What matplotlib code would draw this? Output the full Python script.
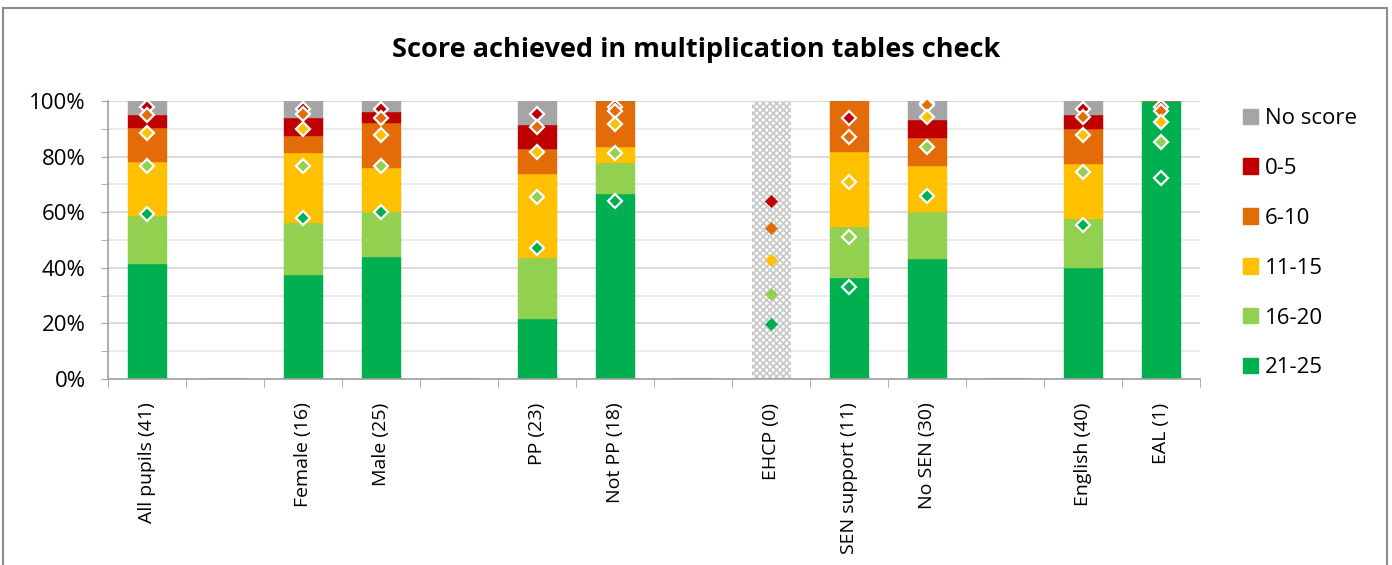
import numpy as np
import matplotlib
matplotlib.use("Agg")
import matplotlib.pyplot as plt
from matplotlib.patches import Rectangle, Patch

plt.rcParams['font.family'] = ['Open Sans', 'DejaVu Sans']
plt.rcParams['hatch.color'] = '#C4C4C4'
plt.rcParams['hatch.linewidth'] = 1.2

# categories (blank entries are the empty spacer rows of the source table)
categories = ["All pupils (41)", "", "Female (16)", "Male (25)", "",
              "PP (23)", "Not PP (18)", "", "EHCP (0)", "SEN support (11)",
              "No SEN (30)", "", "English (40)", "EAL (1)"]
pupils = [41, 0, 16, 25, 0, 23, 18, 0, 0, 11, 30, 0, 40, 1]

# number of pupils in each score band
s21_25 = [17, 0, 6, 11, 0, 5, 12, 0, 0, 4, 13, 0, 16, 1]
s16_20 = [7, 0, 3, 4, 0, 5, 2, 0, 0, 2, 5, 0, 7, 0]
s11_15 = [8, 0, 4, 4, 0, 7, 1, 0, 0, 3, 5, 0, 8, 0]
s6_10 = [5, 0, 1, 4, 0, 2, 3, 0, 0, 2, 3, 0, 5, 0]
s0_5 = [2, 0, 1, 1, 0, 2, 0, 0, 0, 0, 2, 0, 2, 0]
s_none = [2, 0, 1, 1, 0, 2, 0, 0, 0, 0, 2, 0, 2, 0]

# national comparison (cumulative %), shown as diamonds
nan = np.nan
nat_21_25 = [59.2, nan, 58.0, 60.2, nan, 47.0, 64.0, nan, 19.7, 33.2, 65.9, nan, 55.4, 72.2]
nat_16_20 = [76.5, nan, 76.5, 76.5, nan, 65.6, 81.2, nan, 30.6, 51.2, 83.6, nan, 74.3, 85.1]
nat_11_15 = [88.6, nan, 89.8, 87.8, nan, 81.7, 91.6, nan, 42.8, 71.0, 94.1, nan, 87.8, 92.6]
nat_6_10 = [95.0, nan, 95.3, 94.0, nan, 90.8, 96.5, nan, 54.4, 86.9, 98.6, nan, 94.1, 96.5]
nat_0_5 = [97.7, nan, 97.2, 97.0, nan, 95.3, 98.0, nan, 64.0, 94.0, 99.4, nan, 97.1, 97.7]

bands = ["21-25", "16-20", "11-15", "6-10", "0-5", "No score"]
colors = ["#00B050", "#92D050", "#FFC000", "#E36C09", "#C00000", "#A5A5A5"]

series = [s21_25, s16_20, s11_15, s6_10, s0_5, s_none]
national = [nat_21_25, nat_16_20, nat_11_15, nat_6_10, nat_0_5]

n = np.array(pupils, dtype=float)
x = np.arange(len(categories))

fig = plt.figure(figsize=(13.92, 5.65), dpi=100)
ax = fig.add_axes([108 / 1392, 1 - 379 / 565, 1092 / 1392, 278 / 565])

bottom = np.zeros(len(categories))
for vals, col in zip(series, colors):
    pct = np.divide(np.array(vals, float) * 100, n, out=np.zeros_like(n), where=n > 0)
    ax.bar(x, pct, bottom=bottom, width=0.5, color=col, edgecolor=col, linewidth=0.3, zorder=2)
    bottom += pct

# no pupils -> hatched placeholder bar
nodata = [i for i, v in enumerate(pupils) if v == 0 and categories[i]]
ax.bar(nodata, [100] * len(nodata), width=0.5, color='white', hatch='xxxxx',
       edgecolor='#C8C8C8', linewidth=0, zorder=2)

# red drawn first so the white-edged diamonds above sit on top of it
for vals, col in list(zip(national, colors))[::-1]:
    vals = np.array(vals)
    for i, v in enumerate(vals):
        if np.isnan(v):
            continue
        if pupils[i] == 0:
            ax.plot(i, v, marker='D', markersize=6.5, color=col, markeredgecolor=col,
                    markeredgewidth=0.5, zorder=4, clip_on=False)
        else:
            ax.plot(i, v, marker='D', markersize=6.8, color=col, markeredgecolor='white',
                    markeredgewidth=1.6, zorder=4, clip_on=False)

ax.set_xlim(-0.5, len(categories) - 0.5)
ax.set_ylim(0, 100)
ax.set_yticks(np.arange(0, 101, 20))
ax.set_yticklabels([f"{v}%" for v in range(0, 101, 20)], fontsize=16)
ax.set_yticks(np.arange(0, 101, 10), minor=True)
ax.tick_params(axis='y', which='both', length=5, color='#A0A0A0', pad=11)
ax.grid(axis='y', which='major', color='#D4D4D4', linewidth=1.2, zorder=0)
ax.grid(axis='y', which='minor', color='#E8E8E8', linewidth=1.2, zorder=0)
ax.set_axisbelow(True)

ax.set_xticks(x)
ax.set_xticklabels(categories, rotation=90, fontsize=14, va='top')
ax.set_xticks(np.arange(len(categories) + 1) - 0.5, minor=True)
ax.tick_params(axis='x', which='major', length=0, pad=17)
ax.tick_params(axis='x', which='minor', length=6, color='#A0A0A0')

for s in ['top', 'right']:
    ax.spines[s].set_visible(False)
for s in ['left', 'bottom']:
    ax.spines[s].set_color('#A0A0A0')
    ax.spines[s].set_linewidth(1.2)

handles = [Patch(facecolor=c, edgecolor=c) for c in colors[::-1]]
fig.legend(handles, bands[::-1], loc='upper left', bbox_to_anchor=(1223 / 1392, 1 - 88 / 565),
           frameon=False, fontsize=16, labelspacing=1.30, handlelength=0.68,
           handleheight=0.68, handletextpad=0.32)

fig.text(0.5, 1 - 50 / 565, "Score achieved in multiplication tables check",
         ha='center', va='center', fontsize=19.5, fontweight='bold')

fig.add_artist(Rectangle((3 / 1392, -0.1), 1384 / 1392, 1.1 - 8 / 565,
                         transform=fig.transFigure, fill=False,
                         edgecolor='#8C8C8C', linewidth=1.5))

fig.savefig("out.png", dpi=100)
